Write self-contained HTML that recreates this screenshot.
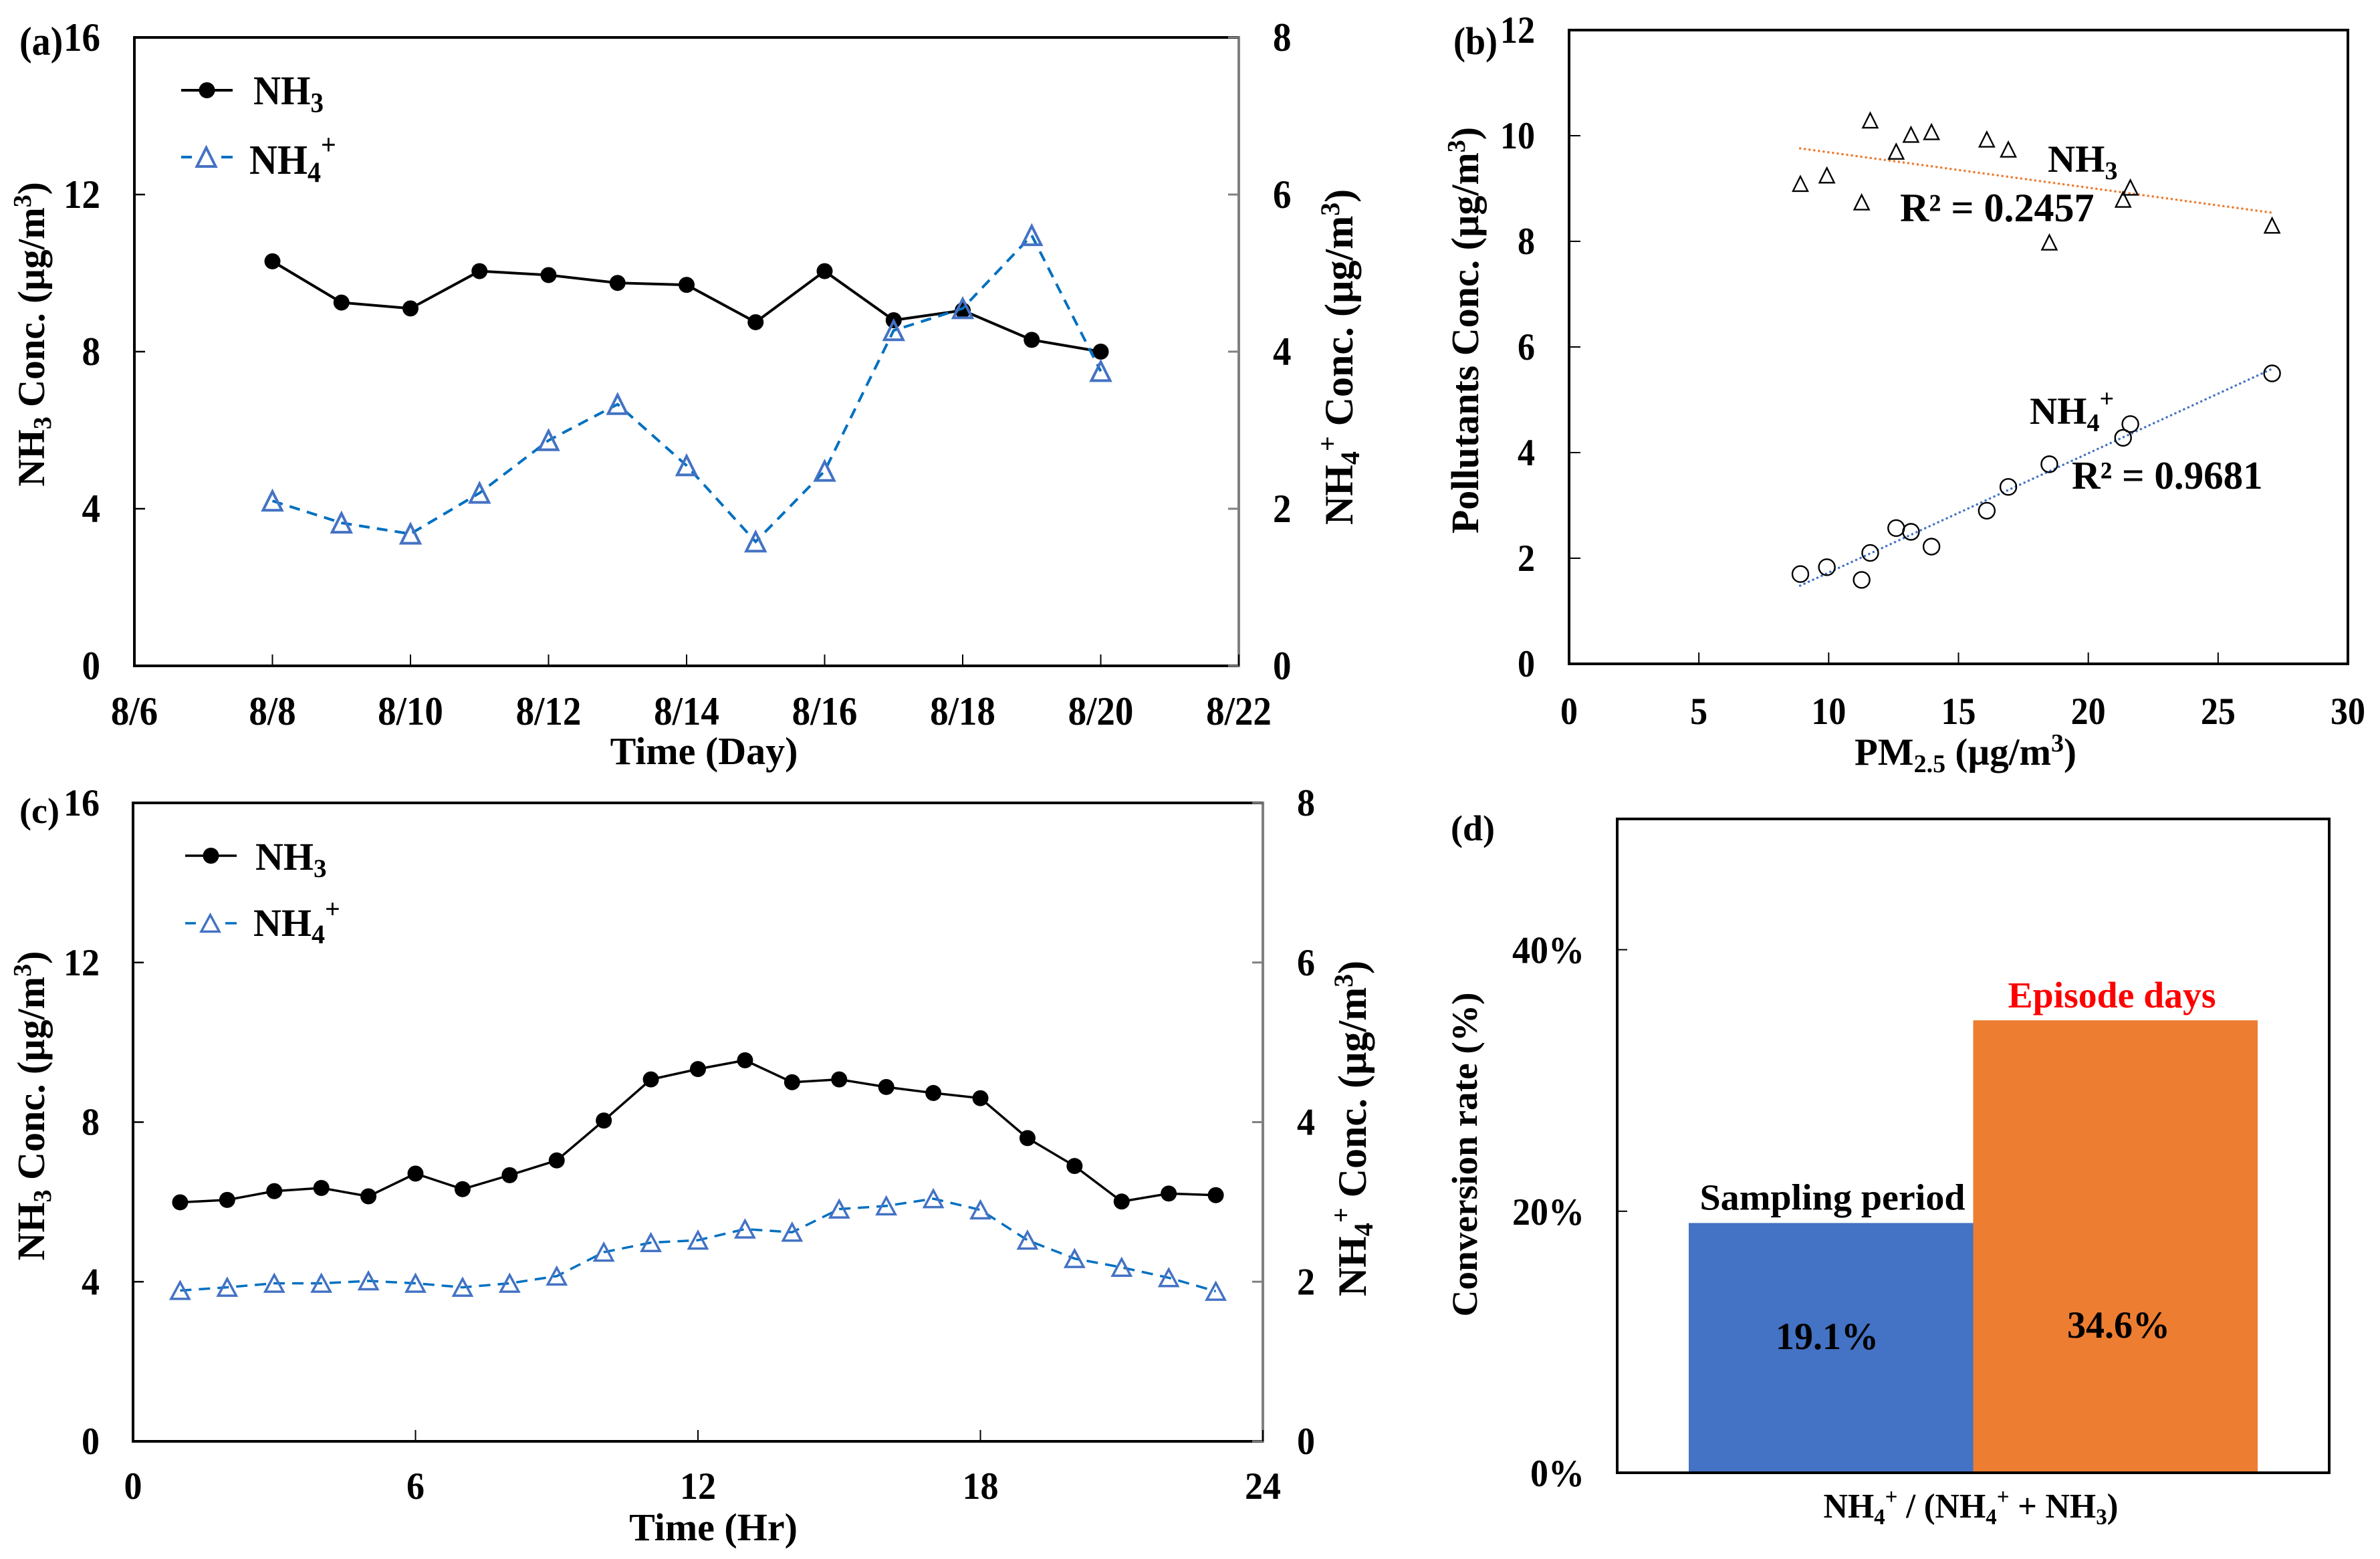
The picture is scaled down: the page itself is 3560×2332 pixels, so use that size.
<!DOCTYPE html>
<html lang="en">
<head>
<meta charset="utf-8">
<title>NH3 and NH4+ concentration charts</title>
<style>
html,body{margin:0;padding:0;background:#fff;}
svg{display:block;}
text{font-family:"Liberation Serif","DejaVu Serif",serif;font-weight:bold;fill:#000;}
</style>
</head>
<body>
<svg id="fig" xmlns="http://www.w3.org/2000/svg" width="3560" height="2332" viewBox="0 0 3560 2332">
  <rect x="0" y="0" width="3560" height="2332" fill="#fff"/>

  <!-- Panel a static text -->
  <text transform="translate(29,82) scale(1,1.08)" font-size="56">(a)</text>
  <text x="1053" y="1143" text-anchor="middle" font-size="58">Time (Day)</text>
  <text transform="translate(66,500) rotate(-90)" text-anchor="middle" font-size="57">NH<tspan dy="10" font-size="38">3</tspan><tspan dy="-10"> Conc. (µg/m</tspan><tspan dy="-20" font-size="38">3</tspan><tspan dy="20">)</tspan></text>
  <text transform="translate(2023,534) rotate(-90)" text-anchor="middle" font-size="60">NH<tspan dy="10" font-size="40">4</tspan><tspan dy="-34" font-size="40">+</tspan><tspan dy="24"> Conc. (µg/m</tspan><tspan dy="-20" font-size="40">3</tspan><tspan dy="20">)</tspan></text>
  <text transform="translate(379,156) scale(1,1.08)" font-size="57">NH<tspan dy="11" font-size="39">3</tspan></text>
  <text transform="translate(373,260) scale(1,1.08)" font-size="58">NH<tspan dy="11" font-size="40">4</tspan><tspan dy="-38" font-size="40">+</tspan></text>

  <!-- Panel b static text -->
  <text transform="translate(2174,81) scale(1,1.08)" font-size="54">(b)</text>
  <text x="2940" y="1144" text-anchor="middle" font-size="57">PM<tspan dy="11" font-size="38">2.5</tspan><tspan dy="-11"> (µg/m</tspan><tspan dy="-20" font-size="38">3</tspan><tspan dy="20">)</tspan></text>
  <text transform="translate(2211,494) rotate(-90)" text-anchor="middle" font-size="58">Pollutants Conc. (µg/m<tspan dy="-20" font-size="38">3</tspan><tspan dy="20">)</tspan></text>
  <text x="3063" y="257" font-size="57">NH<tspan dy="11" font-size="38">3</tspan></text>
  <text x="2842" y="331" font-size="60">R² = 0.2457</text>
  <text x="3036" y="634" font-size="57">NH<tspan dy="11" font-size="38">4</tspan><tspan dy="-36" font-size="38">+</tspan></text>
  <text x="3099" y="731" font-size="59">R² = 0.9681</text>

  <!-- Panel c static text -->
  <text x="29" y="1231" font-size="54">(c)</text>
  <text x="1067" y="2304" text-anchor="middle" font-size="58">Time (Hr)</text>
  <text transform="translate(66,1654) rotate(-90)" text-anchor="middle" font-size="58">NH<tspan dy="10" font-size="38">3</tspan><tspan dy="-10"> Conc. (µg/m</tspan><tspan dy="-20" font-size="38">3</tspan><tspan dy="20">)</tspan></text>
  <text transform="translate(2043,1688) rotate(-90)" text-anchor="middle" font-size="60">NH<tspan dy="10" font-size="40">4</tspan><tspan dy="-34" font-size="40">+</tspan><tspan dy="24"> Conc. (µg/m</tspan><tspan dy="-20" font-size="40">3</tspan><tspan dy="20">)</tspan></text>
  <text x="382" y="1301" font-size="58">NH<tspan dy="11" font-size="39">3</tspan></text>
  <text x="379" y="1400" font-size="58">NH<tspan dy="11" font-size="40">4</tspan><tspan dy="-38" font-size="40">+</tspan></text>

  <!-- Panel d static text -->
  <text x="2170" y="1257" font-size="54">(d)</text>
  <text transform="translate(2209,1727) rotate(-90)" text-anchor="middle" font-size="54" textLength="485" lengthAdjust="spacingAndGlyphs">Conversion rate (%)</text>
  <text x="2948" y="2270" text-anchor="middle" font-size="52" textLength="441" lengthAdjust="spacingAndGlyphs">NH<tspan dy="10" font-size="34">4</tspan><tspan dy="-30" font-size="34">+</tspan><tspan dy="20"> / (NH</tspan><tspan dy="10" font-size="34">4</tspan><tspan dy="-30" font-size="34">+</tspan><tspan dy="20"> + NH</tspan><tspan dy="10" font-size="34">3</tspan><tspan dy="-10">)</tspan></text>
</svg>

<script>
// Panel (a) data
const dayNumbers = [8, 9, 10, 11, 12, 13, 14, 15, 16, 17, 18, 19, 20];
const dayNH3 = [10.3, 9.25, 9.1, 10.05, 9.95, 9.75, 9.7, 8.75, 10.05, 8.8, 9.05, 8.3, 8.0];
const dayNH4 = [2.1, 1.82, 1.68, 2.2, 2.87, 3.33, 2.55, 1.58, 2.48, 4.27, 4.55, 5.48, 3.75];
const dayTicks = [6, 8, 10, 12, 14, 16, 18, 20, 22];
const dayTickLabels = ['8/6', '8/8', '8/10', '8/12', '8/14', '8/16', '8/18', '8/20', '8/22'];
// Shared dual axis ticks for (a) and (c)
const leftTicks = [0, 4, 8, 12, 16];
const rightTicks = [0, 2, 4, 6, 8];

// Panel (b) data
const pm25 = [8.91, 9.93, 11.27, 11.6, 12.6, 13.17, 13.96, 16.09, 16.92, 18.5, 21.34, 21.62, 27.08];
const scatterNH3 = [9.09, 9.25, 8.74, 10.29, 9.7, 10.02, 10.07, 9.93, 9.74, 7.98, 8.79, 9.02, 8.3];
const scatterNH4 = [1.7, 1.83, 1.59, 2.1, 2.57, 2.5, 2.22, 2.9, 3.35, 3.78, 4.28, 4.54, 5.5];
const trendX = [8.9, 27.1];
const trendNH3 = [9.76, 8.54];
const trendNH4 = [1.48, 5.59];
const scatterXTicks = [0, 5, 10, 15, 20, 25, 30];
const scatterYTicks = [0, 2, 4, 6, 8, 10, 12];

// Panel (c) data
const hours = [1, 2, 3, 4, 5, 6, 7, 8, 9, 10, 11, 12, 13, 14, 15, 16, 17, 18, 19, 20, 21, 22, 23];
const hourNH3 = [5.99, 6.05, 6.27, 6.35, 6.14, 6.71, 6.32, 6.67, 7.04, 8.04, 9.07, 9.33, 9.55, 9.0, 9.07, 8.88, 8.73, 8.6, 7.6, 6.9, 6.01, 6.21, 6.17];
const hourNH4 = [1.89, 1.93, 1.98, 1.98, 2.01, 1.98, 1.93, 1.98, 2.07, 2.37, 2.49, 2.52, 2.66, 2.62, 2.91, 2.95, 3.04, 2.9, 2.52, 2.29, 2.18, 2.05, 1.88];
const hourTicks = [0, 6, 12, 18, 24];

// Panel (d) data
const barNames = ['Sampling period', 'Episode days'];
const barValues = [19.1, 34.6];
const conversionTicks = [0, 20, 40];

const SVG_NS = 'http://www.w3.org/2000/svg';
const fig = document.getElementById('fig');

function shape(tag, name, attrs) {
  const el = document.createElementNS(SVG_NS, tag);
  
  
  for (const k in attrs) el.setAttribute(k, attrs[k]);
  fig.appendChild(el);
  return el;
}
function label(name, str, x, y, anchor, size, sy) {
  const el = shape('text', name, {
    transform: 'translate(' + x + ',' + y + ') scale(1,' + sy + ')',
    'text-anchor': anchor,
    'font-size': size
  });
  el.textContent = str;
  return el;
}
function linear(d0, d1, r0, r1) {
  return function (v) { return r0 + (v - d0) * (r1 - r0) / (d1 - d0); };
}
function polyPoints(xs, ys, sx, sy) {
  return xs.map(function (x, i) { return sx(x) + ',' + sy(ys[i]); }).join(' ');
}
function triangle(name, cx, cy, w, h, stroke, sw) {
  const pts = (cx - w / 2) + ',' + (cy + h / 2) + ' ' + (cx + w / 2) + ',' + (cy + h / 2) + ' ' + cx + ',' + (cy - h / 2);
  shape('polygon', name, { points: pts, fill: 'none', stroke: stroke, 'stroke-width': sw, 'stroke-linejoin': 'miter' });
}

function dualChart(p, prefix, xs, nh3, nh4, xTicks, xLabels, xDomain) {
  const sx = linear(xDomain[0], xDomain[1], p.left, p.right);
  const syL = linear(0, 16, p.bottom, p.top);
  const syR = linear(0, 8, p.bottom, p.top);

  // frame
  shape('line', prefix + '-right-axis', { x1: p.right, y1: p.top - 2, x2: p.right, y2: p.bottom + 2, stroke: '#808080', 'stroke-width': 4 });
  shape('line', prefix + '-top-axis', { x1: p.left - 2, y1: p.top, x2: p.right, y2: p.top, stroke: '#000', 'stroke-width': 4 });
  shape('line', prefix + '-left-axis', { x1: p.left, y1: p.top, x2: p.left, y2: p.bottom, stroke: '#000', 'stroke-width': 4 });
  shape('line', prefix + '-bottom-axis', { x1: p.left - 2, y1: p.bottom, x2: p.right, y2: p.bottom, stroke: '#000', 'stroke-width': 4 });

  leftTicks.forEach(function (t) {
    if (t > 0 && t < 16) shape('line', prefix + '-left-tick', { x1: p.left, y1: syL(t), x2: p.left + 16, y2: syL(t), stroke: '#000', 'stroke-width': 2.5 });
    label(prefix + '-left-tick-label', String(t), p.leftLabelX, syL(t) + p.labelDy, 'end', p.fs, p.tsy);
  });
  rightTicks.forEach(function (t) {
    shape('line', prefix + '-right-tick', { x1: p.right - 16, y1: syR(t), x2: p.right, y2: syR(t), stroke: '#808080', 'stroke-width': 3 });
    label(prefix + '-right-tick-label', String(t), p.rightLabelX, syR(t) + p.labelDy, 'start', p.fs, p.tsy);
  });
  xTicks.forEach(function (t, i) {
    if (i > 0) shape('line', prefix + '-x-tick', { x1: sx(t), y1: p.bottom - 17, x2: sx(t), y2: p.bottom, stroke: '#000', 'stroke-width': 2 });
    label(prefix + '-x-tick-label', xLabels[i], sx(t), p.xLabelY, 'middle', p.fs, p.tsy);
  });

  // NH3 series
  shape('polyline', prefix + '-nh3-line', { points: polyPoints(xs, nh3, sx, syL), fill: 'none', stroke: '#000', 'stroke-width': p.lineW });
  xs.forEach(function (x, i) {
    shape('circle', prefix + '-nh3-point', { cx: sx(x), cy: syL(nh3[i]), r: p.dotR, fill: '#000' });
  });
  // NH4 series
  shape('polyline', prefix + '-nh4-line', { points: polyPoints(xs, nh4, sx, syR), fill: 'none', stroke: '#0070c0', 'stroke-width': p.lineW, 'stroke-dasharray': p.dash });
  xs.forEach(function (x, i) {
    triangle(prefix + '-nh4-point', sx(x), syR(nh4[i]), p.triW, p.triH, '#4472c4', p.triSW);
  });

  // legend
  shape('line', prefix + '-legend-nh3-line', { x1: p.legX0, y1: p.legY1, x2: p.legX1, y2: p.legY1, stroke: '#000', 'stroke-width': p.lineW });
  shape('circle', prefix + '-legend-nh3-marker', { cx: (p.legX0 + p.legX1) / 2, cy: p.legY1, r: p.dotR, fill: '#000' });
  shape('line', prefix + '-legend-nh4-line', { x1: p.legX0, y1: p.legY2, x2: p.legX1, y2: p.legY2, stroke: '#0070c0', 'stroke-width': p.lineW, 'stroke-dasharray': '16 44 17' });
  triangle(prefix + '-legend-nh4-marker', (p.legX0 + p.legX1) / 2 - 1, p.legY2, p.triW, p.triH, '#4472c4', p.triSW);
}

const panelA = { left: 201, right: 1853, top: 56, bottom: 996, leftLabelX: 150, rightLabelX: 1904, xLabelY: 1084, labelDy: 20, fs: 55, tsy: 1.09,
  lineW: 4, dotR: 12, dash: '16 11', triW: 28, triH: 28, triSW: 4, legX0: 271, legX1: 348, legY1: 135, legY2: 235 };
dualChart(panelA, 'panel-a', dayNumbers, dayNH3, dayNH4, dayTicks, dayTickLabels, [6, 22]);

const panelC = { left: 199, right: 1889, top: 1201, bottom: 2156, leftLabelX: 149, rightLabelX: 1940, xLabelY: 2242, labelDy: 19, fs: 54, tsy: 1.06,
  lineW: 3.5, dotR: 12, dash: '17 11', triW: 27, triH: 25, triSW: 3.5, legX0: 277, legX1: 354, legY1: 1280, legY2: 1381 };
dualChart(panelC, 'panel-c', hours, hourNH3, hourNH4, hourTicks, hourTicks.map(String), [0, 24]);

// Panel (b)
(function () {
  const left = 2347, right = 3512, top = 45, bottom = 993;
  const sx = linear(0, 30, left, right);
  const sy = linear(0, 12, bottom, top);
  shape('rect', 'panel-b-frame', { x: left, y: top, width: right - left, height: bottom - top, fill: 'none', stroke: '#000', 'stroke-width': 4 });
  scatterYTicks.forEach(function (t) {
    if (t > 0 && t < 12) shape('line', 'panel-b-y-tick', { x1: left, y1: sy(t), x2: left + 17, y2: sy(t), stroke: '#000', 'stroke-width': 2 });
    label('panel-b-y-tick-label', String(t), 2296, sy(t) + 19, 'end', 52, 1.09);
  });
  scatterXTicks.forEach(function (t) {
    if (t > 0 && t < 30) shape('line', 'panel-b-x-tick', { x1: sx(t), y1: bottom - 17, x2: sx(t), y2: bottom, stroke: '#000', 'stroke-width': 2 });
    label('panel-b-x-tick-label', String(t), sx(t), 1083, 'middle', 52, 1.09);
  });
  shape('line', 'nh3-trendline', { x1: sx(trendX[0]), y1: sy(trendNH3[0]), x2: sx(trendX[1]), y2: sy(trendNH3[1]), stroke: '#ed7d31', 'stroke-width': 3.5, 'stroke-dasharray': '0.1 7', 'stroke-linecap': 'round' });
  shape('line', 'nh4-trendline', { x1: sx(trendX[0]), y1: sy(trendNH4[0]), x2: sx(trendX[1]), y2: sy(trendNH4[1]), stroke: '#4472c4', 'stroke-width': 3.5, 'stroke-dasharray': '0.1 7', 'stroke-linecap': 'round' });
  pm25.forEach(function (x, i) {
    triangle('nh3-scatter-point', sx(x), sy(scatterNH3[i]), 22, 22, '#000', 2.4);
    shape('circle', 'nh4-scatter-point', { cx: sx(x), cy: sy(scatterNH4[i]), r: 12, fill: 'none', stroke: '#000', 'stroke-width': 2.4 });
  });
})();

// Panel (d)
(function () {
  const left = 2419, right = 3484, top = 1225, bottom = 2203;
  const sy = linear(0, 50, bottom, top);
  const band = linear(0, 2, 2526, 3377);
  const colors = ['#4472c4', '#ed7d31'];
  barValues.forEach(function (v, i) {
    shape('rect', 'bar-' + (i === 0 ? 'sampling-period' : 'episode-days'), { x: band(i), y: sy(v), width: band(i + 1) - band(i), height: bottom - sy(v), fill: colors[i] });
  });
  shape('rect', 'panel-d-frame', { x: left, y: top, width: right - left, height: bottom - top, fill: 'none', stroke: '#000', 'stroke-width': 4 });
  conversionTicks.forEach(function (t) {
    if (t > 0) shape('line', 'panel-d-y-tick', { x1: left, y1: sy(t), x2: left + 15, y2: sy(t), stroke: '#000', 'stroke-width': 2 });
    label('panel-d-y-tick-label', t + '%', 2370, sy(t) + 20, 'end', 54, 1.05);
  });
  const nameCenters = [2741, 3159];
  const nameY = [sy(barValues[0]) - 20, sy(barValues[1]) - 19];
  const nameLengths = [397, 311];
  const valueCenters = [2733, 3169];
  const valueY = [2018, 2001];
  barNames.forEach(function (n, i) {
    const t = label(i === 0 ? 'sampling-period-label' : 'episode-days-label', n, nameCenters[i], nameY[i], 'middle', 52, 1.05);
    t.setAttribute('textLength', nameLengths[i]);
    t.setAttribute('lengthAdjust', 'spacingAndGlyphs');
    if (i === 1) t.setAttribute('style', 'fill:#ff0000');
    label(i === 0 ? 'sampling-period-value' : 'episode-days-value', barValues[i].toFixed(1) + '%', valueCenters[i], valueY[i], 'middle', 56, 1.03);
  });
})();
</script>
</body>
</html>
